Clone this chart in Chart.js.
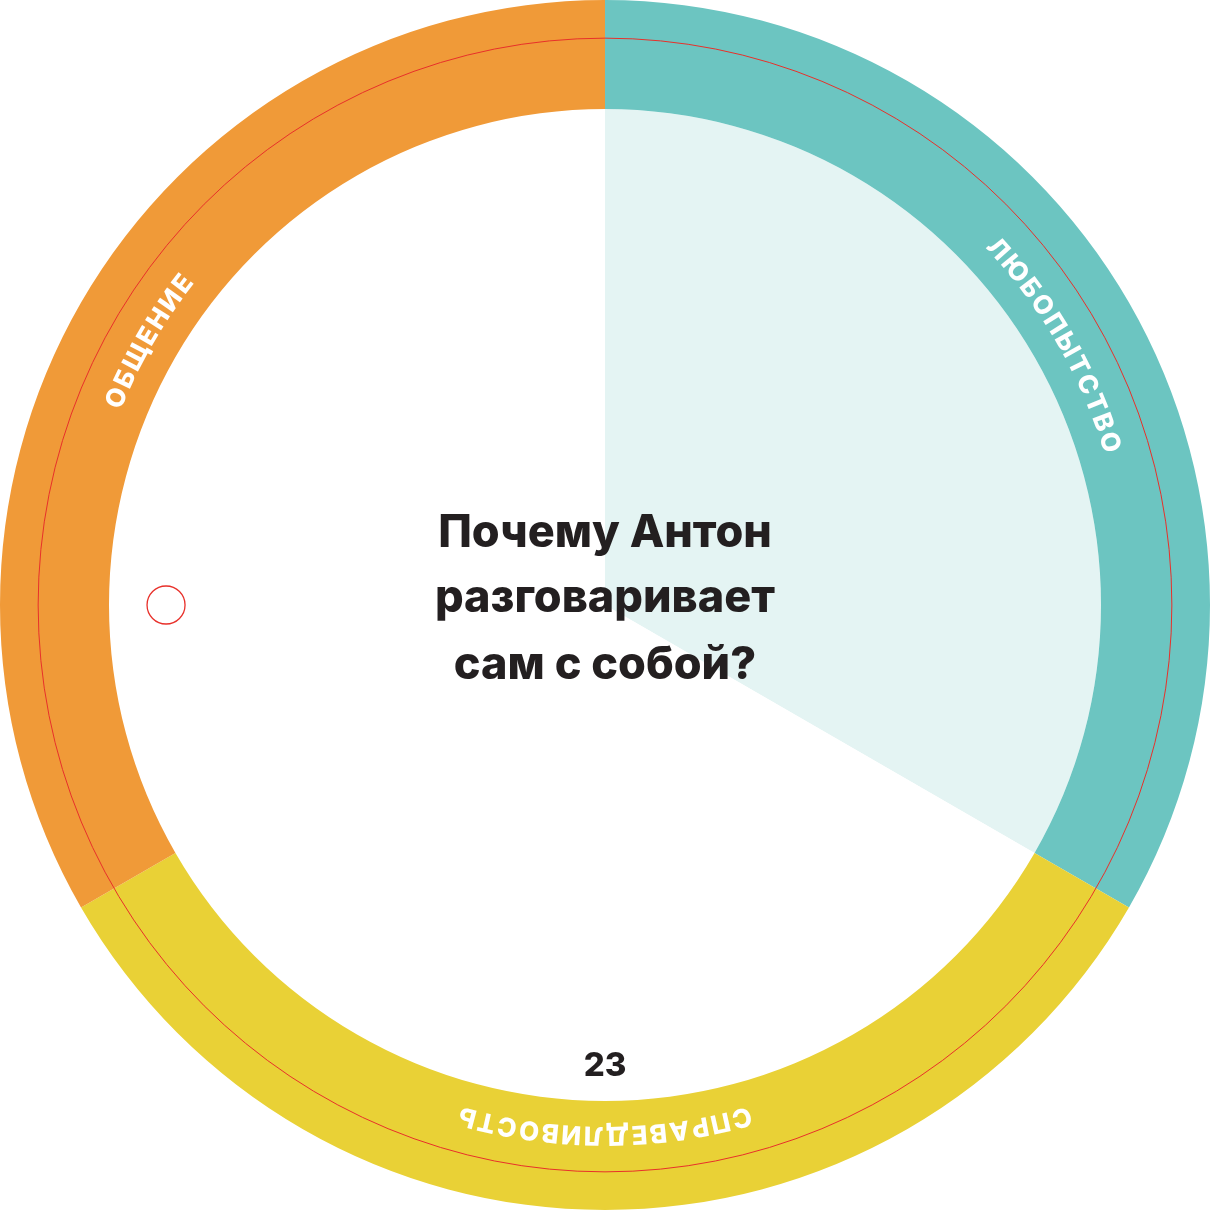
<!DOCTYPE html>
<html lang="ru">
  <head>
    <meta charset="UTF-8" />
    <title>Почему Антон разговаривает сам с собой?</title>
    <style>
      html, body {
        margin: 0;
        padding: 0;
        background: #ffffff;
      }
      #wheel {
        display: block;
      }
    </style>
  </head>
  <body>
    <canvas id="wheel" width="1210" height="1210"></canvas>

    <script src="https://cdn.jsdelivr.net/npm/chart.js"></script>
    <script>
      // data
      const categories = ["ЛЮБОПЫТСТВО", "СПРАВЕДЛИВОСТЬ", "ОБЩЕНИЕ"];
      const ringValues = [1, 1, 1];
      const ringColors = ["#6cc5c1", "#e9d136", "#f09a38"];
      const innerLabels = ["ЛЮБОПЫТСТВО", ""];
      const innerValues = [1, 2];
      const innerColors = ["#e4f4f3", "#ffffff"];
      const titleLines = ["Почему Антон", "разговаривает", "сам с собой?"];
      const pageNumber = "23";

      const wheelText = {
        id: "wheelText",
        afterDatasetsDraw(chart) {
          const ctx = chart.ctx;
          const ring = chart.getDatasetMeta(0).data;
          const cx = ring[0].x;
          const cy = ring[0].y;
          const outer = ring[0].outerRadius;
          const inner = ring[0].innerRadius;
          const band = outer - inner;

          ctx.save();

          // thin red guide circle
          ctx.strokeStyle = "#e8302a";
          ctx.lineWidth = 1;
          ctx.beginPath();
          ctx.arc(cx, cy, outer - band * 0.35, 0, Math.PI * 2);
          ctx.stroke();

          // small red marker
          ctx.lineWidth = 1.3;
          ctx.beginPath();
          ctx.arc(cx - inner * 0.885, cy, 19, 0, Math.PI * 2);
          ctx.stroke();

          // curved labels on the ring
          const r = inner + band * 0.31;
          ctx.font = "800 26px Inter";
          ctx.fillStyle = "#ffffff";
          ctx.textAlign = "center";
          ctx.textBaseline = "middle";
          const track = 2.5;
          ring.forEach((arc, i) => {
            const text = categories[i];
            const chars = Array.from(text);
            const widths = chars.map((c) => ctx.measureText(c).width);
            const total = widths.reduce((a, b) => a + b, 0) + track * (chars.length - 1);
            const mid = (arc.startAngle + arc.endAngle) / 2;
            let pos = -total / 2;
            chars.forEach((c, k) => {
              const a = mid + (pos + widths[k] / 2) / r;
              ctx.save();
              ctx.translate(cx + r * Math.cos(a), cy + r * Math.sin(a));
              ctx.rotate(a + Math.PI / 2);
              ctx.fillText(c, 0, 0);
              ctx.restore();
              pos += widths[k] + track;
            });
          });

          // title
          ctx.fillStyle = "#231f20";
          ctx.textBaseline = "alphabetic";
          ctx.font = "800 45px Inter";
          const base = [-58, 7, 74];
          titleLines.forEach((line, i) => {
            ctx.fillText(line, cx, cy + base[i]);
          });

          // page number
          ctx.font = "800 33px Inter";
          ctx.fillText(pageNumber, cx, cy + 471);

          ctx.restore();
        },
      };

      const ctx = document.getElementById("wheel").getContext("2d");
      const wheel = new Chart(ctx, {
        type: "doughnut",
        data: {
          labels: categories,
          datasets: [
            {
              data: ringValues,
              backgroundColor: ringColors,
              borderWidth: 0,
              hoverOffset: 0,
              weight: 109,
            },
            {
              labels: innerLabels,
              data: innerValues,
              backgroundColor: innerColors,
              borderWidth: 0,
              hoverOffset: 0,
              weight: 496,
            },
          ],
        },
        options: {
          responsive: false,
          devicePixelRatio: 1,
          animation: false,
          cutout: 0,
          layout: { padding: 0 },
          plugins: {
            legend: { display: false },
            tooltip: { enabled: false },
          },
        },
        plugins: [wheelText],
      });
    </script>
  </body>
</html>
